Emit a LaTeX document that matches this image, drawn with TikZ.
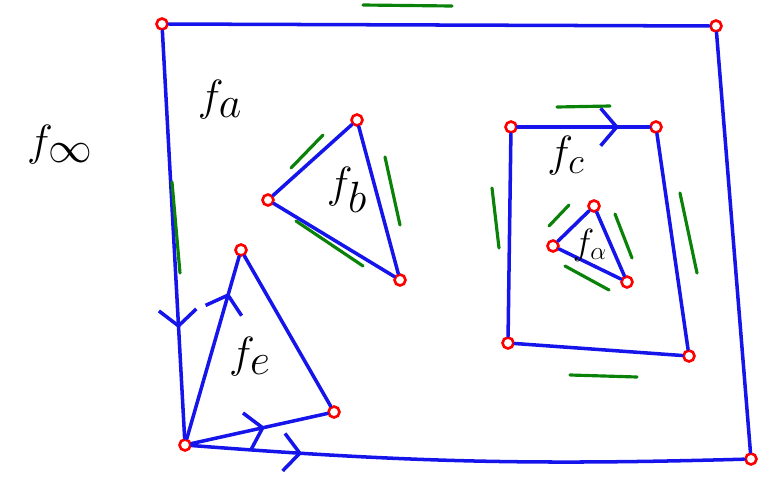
\documentclass[tikz,border=0pt]{standalone}
\usepackage{amsmath}
\usepackage{xcolor}
\usepackage{tikz}
\usetikzlibrary{arrows.meta,decorations.markings}
\definecolor{penblue}{RGB}{20,20,235}
\definecolor{pengreen}{RGB}{10,130,10}
\tikzstyle{vtx}=[circle, draw=red, line width=1.5pt, minimum size=2.2mm, inner sep=0pt]
\tikzstyle{edge}=[draw=penblue, line width=2pt, line join=round, line cap=round]
\tikzstyle{side}=[draw=pengreen, line width=1.8pt, line cap=round]
\tikzstyle{lbl}=[inner sep=0pt]
\tikzstyle{midarrow}=[postaction={decorate}, decoration={markings,
  mark=at position #1 with {\arrow[penblue, line width=2pt]{Straight Barb[length=3.2mm, width=7.5mm]}}}]

\begin{document}
\begin{tikzpicture}[x=0.02cm, y=-0.02cm]
\useasboundingbox (0,0) rectangle (769,481);
% outer face
\node[vtx] (otl) at (162,24) {};
\node[vtx] (otr) at (716,26) {};
\node[vtx] (obr) at (751,459) {};
\node[vtx] (obl) at (185,445) {};
% triangle b
\node[vtx] (bt) at (357,120) {};
\node[vtx] (bl) at (268,200) {};
\node[vtx] (br) at (400,280) {};
% triangle e
\node[vtx] (et) at (241,250) {};
\node[vtx] (er) at (334,412) {};
% rectangle c
\node[vtx] (ctl) at (511,127) {};
\node[vtx] (ctr) at (656,127) {};
\node[vtx] (cbr) at (689,356) {};
\node[vtx] (cbl) at (508,343) {};
% triangle alpha
\node[vtx] (at) at (594,206) {};
\node[vtx] (al) at (553,246) {};
\node[vtx] (ar) at (627,282) {};

\draw[edge] (otl) -- (otr) -- (obr);
\draw[edge, midarrow=0.2] (obl) to[bend right=3] (obr);
\draw[edge, midarrow=0.73] (otl) -- (obl);
\draw[edge] (bt) -- (bl) -- (br) -- (bt);
\draw[edge, midarrow=0.8] (obl) -- (et);
\draw[edge] (et) -- (er);
\draw[edge, midarrow=0.54] (obl) -- (er);
\draw[edge, midarrow=0.77] (ctl) -- (ctr);
\draw[edge] (ctr) -- (cbr) -- (cbl) -- (ctl);
\draw[edge] (at) -- (al) -- (ar) -- (at);

% green side marks
\draw[side] (363,5) -- (452,6);
\draw[side] (172,182) -- (180,273);
\draw[side] (291,168) -- (323,135);
\draw[side] (296,221) -- (363,266);
\draw[side] (385,157) -- (400,225);
\draw[side] (557,107) -- (610,106);
\draw[side] (492,188) -- (499,248);
\draw[side] (680,193) -- (697,273);
\draw[side] (570,375) -- (637,377);
\draw[side] (549,226) -- (569,205);
\draw[side] (565,266) -- (609,290);
\draw[side] (615,214) -- (632,258);

% face labels
\node[lbl] (finf) at (60,145) {\fontsize{56}{60}\selectfont $f_{\infty}$};
\node[lbl] (fa) at (220,100) {\fontsize{36}{40}\selectfont $f_{a}$};
\node[lbl] (fb) at (347,190) {\fontsize{38}{42}\selectfont $f_{b}$};
\node[lbl] (fc) at (566,156) {\fontsize{32}{36}\selectfont $f_{c}$};
\node[lbl] (falpha) at (590,245) {\fontsize{22}{26}\selectfont $f_{\alpha}$};
\node[lbl] (fe) at (250,357) {\fontsize{38}{42}\selectfont $f_{e}$};
\end{tikzpicture}
\end{document}
